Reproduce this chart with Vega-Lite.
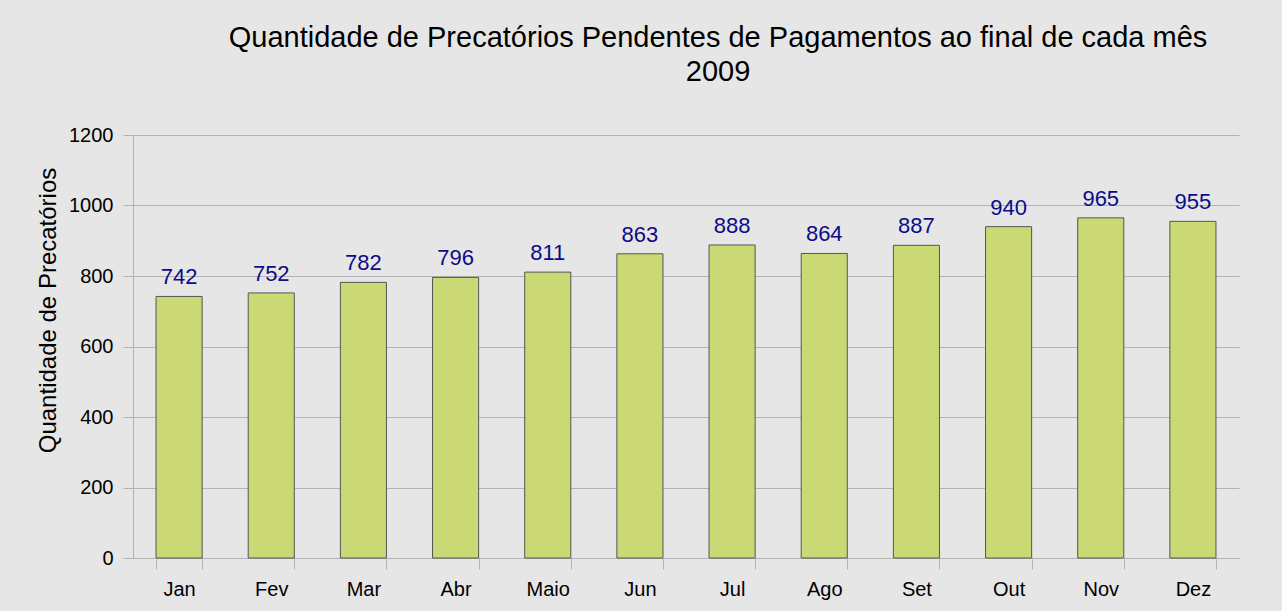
{
  "$schema": "https://vega.github.io/schema/vega-lite/v6.json",
  "width": 1106,
  "height": 423,
  "autosize": {"type": "none"},
  "padding": {"left": 133, "top": 135, "right": 43, "bottom": 53},
  "background": "#e6e6e6",
  "title": {
    "text": ["Quantidade de Precatórios Pendentes de Pagamentos ao final de cada mês", "2009"],
    "fontSize": 29,
    "font": "Liberation Sans",
    "fontWeight": "normal",
    "color": "#000000",
    "anchor": "middle",
    "dx": 32,
    "offset": 38,
    "lineHeight": 34
  },
  "data": {
    "values": [
      {"mes": "Jan", "quantidade": 742},
      {"mes": "Fev", "quantidade": 752},
      {"mes": "Mar", "quantidade": 782},
      {"mes": "Abr", "quantidade": 796},
      {"mes": "Maio", "quantidade": 811},
      {"mes": "Jun", "quantidade": 863},
      {"mes": "Jul", "quantidade": 888},
      {"mes": "Ago", "quantidade": 864},
      {"mes": "Set", "quantidade": 887},
      {"mes": "Out", "quantidade": 940},
      {"mes": "Nov", "quantidade": 965},
      {"mes": "Dez", "quantidade": 955}
    ]
  },
  "encoding": {
    "x": {
      "field": "mes",
      "type": "nominal",
      "sort": null,
      "scale": {"paddingInner": 0.5, "paddingOuter": 0.25},
      "axis": {
        "title": null,
        "labelAngle": 0,
        "labelFont": "Liberation Sans",
        "labelFontSize": 20,
        "labelColor": "#000000",
        "labelPadding": 10,
        "tickBand": "extent",
        "tickSize": 11,
        "tickColor": "#b3b3b3",
        "domainColor": "#b3b3b3",
        "grid": false
      }
    },
    "y": {
      "field": "quantidade",
      "type": "quantitative",
      "scale": {"domain": [0, 1200], "nice": false},
      "axis": {
        "title": "Quantidade de Precatórios",
        "titleFont": "Liberation Sans",
        "titleFontSize": 24,
        "titleFontWeight": "normal",
        "titleColor": "#000000",
        "titleX": -78,
        "titleY": 175,
        "titleBaseline": "alphabetic",
        "titleAngle": -90,
        "values": [0, 200, 400, 600, 800, 1000, 1200],
        "format": "d",
        "labelFont": "Liberation Sans",
        "labelFontSize": 20,
        "labelColor": "#000000",
        "labelPadding": 10,
        "tickSize": 10,
        "tickColor": "#b3b3b3",
        "domainColor": "#b3b3b3",
        "grid": true,
        "gridColor": "#b3b3b3"
      }
    }
  },
  "layer": [
    {
      "mark": {"type": "bar", "fill": "#cad974", "stroke": "#555555", "strokeWidth": 1}
    },
    {
      "mark": {
        "type": "text",
        "baseline": "alphabetic",
        "dy": -12,
        "font": "Liberation Sans",
        "fontSize": 22,
        "color": "#0c0c8a"
      },
      "encoding": {"text": {"field": "quantidade", "type": "quantitative"}}
    }
  ],
  "config": {"view": {"stroke": null}}
}
